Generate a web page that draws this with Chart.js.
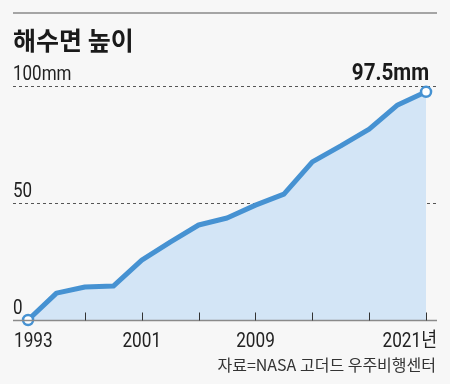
<!DOCTYPE html>
<html lang="ko">
<head>
    <meta charset="UTF-8">
    <title>해수면 높이</title>
    <script src="https://cdn.jsdelivr.net/npm/chart.js"></script>
    <style>
        html, body { margin: 0; padding: 0; background: #f7f7f7; }
        #wrap { width: 450px; height: 384px; position: relative; }
    </style>
</head>
<body>
    <div id="wrap"><canvas id="sea-chart" width="450" height="384"></canvas></div>

    <script>
        // data
        var years = [1993, 1995, 1997, 1999, 2001, 2003, 2005, 2007, 2009, 2011, 2013, 2015, 2017, 2019, 2021];
        var seaLevel = [0, 11.5, 14.1, 14.5, 25.6, 33.3, 40.6, 43.6, 49.1, 53.8, 67.6, 74.4, 81.6, 91.9, 97.5];
        var yTicks = [0, 50, 100];
        var yTickLabels = ['0', '50', '100mm'];
        var tickYears = [1993, 1997, 2001, 2005, 2009, 2013, 2017, 2021];
        var labelYears = [1993, 2001, 2009, 2021];
        var labelTexts = ['1993', '2001', '2009', '2021년'];

        var title = '해수면 높이';
        var source = '자료=NASA 고더드 우주비행센터';
        var lastLabel = '97.5mm';

        var numFont = '"Roboto", "Noto Sans CJK KR", sans-serif';
        var kr = '"Noto Sans CJK KR", sans-serif';

        // condensed-looking text: squeeze horizontally around the anchor
        function narrowText(c, text, x, y, align, sx) {
            c.save();
            c.translate(x, y);
            c.scale(sx, 1);
            c.textAlign = align;
            c.fillText(text, 0, 0);
            c.restore();
        }

        var decor = {
            id: 'decor',
            beforeDatasetsDraw: function(chart) {
                var c = chart.ctx, y = chart.scales.y;
                var left = 13, right = 437;
                c.save();
                // top rule
                c.strokeStyle = '#8a8a8a';
                c.lineWidth = 1.5;
                c.beginPath(); c.moveTo(left, 13); c.lineTo(right, 13); c.stroke();
                // title
                c.fillStyle = '#1a1a1a';
                c.font = 'bold 25px ' + kr;
                c.textBaseline = 'alphabetic';
                c.textAlign = 'left';
                c.fillText(title, 13, 50);
                // dashed gridlines
                c.lineWidth = 1;
                c.strokeStyle = '#555';
                c.setLineDash([3, 3]);
                yTicks.forEach(function(v) {
                    var py = Math.round(y.getPixelForValue(v)) + 0.5;
                    if (v !== 0) {
                        c.beginPath(); c.moveTo(left, py); c.lineTo(right, py); c.stroke();
                    }
                });
                c.setLineDash([]);
                // y labels
                c.font = '20px ' + numFont;
                c.fillStyle = '#222';
                yTicks.forEach(function(v, i) {
                    var py = y.getPixelForValue(v);
                    narrowText(c, yTickLabels[i], 13, py - 6, 'left', 0.85);
                });
                c.restore();
            },
            afterDatasetsDraw: function(chart) {
                var c = chart.ctx, x = chart.scales.x, y = chart.scales.y;
                var left = 13, right = 437;
                var base = Math.round(y.getPixelForValue(0)) + 0.5;
                c.save();
                // x axis line
                c.strokeStyle = '#8a8a8a';
                c.lineWidth = 1.5;
                c.beginPath(); c.moveTo(left, base); c.lineTo(right, base); c.stroke();
                // tick marks (upward)
                c.strokeStyle = '#333';
                c.lineWidth = 1;
                tickYears.forEach(function(yr, i) {
                    if (i === 0) return;
                    var px = Math.round(x.getPixelForValue(yr)) + 0.5;
                    c.beginPath(); c.moveTo(px, base); c.lineTo(px, base - 8); c.stroke();
                });
                // x labels
                c.fillStyle = '#222';
                c.font = '20px ' + numFont;
                c.textBaseline = 'alphabetic';
                labelYears.forEach(function(yr, i) {
                    var px = x.getPixelForValue(yr), align = 'center';
                    if (i === 0) { align = 'left'; px = 14; }
                    else if (i === labelYears.length - 1) { align = 'right'; px = 437; }
                    narrowText(c, labelTexts[i], px, 347, align, 0.86);
                });
                // last value label
                var lx = x.getPixelForValue(years[years.length - 1]);
                var ly = y.getPixelForValue(seaLevel[seaLevel.length - 1]);
                c.font = 'bold 24px ' + numFont;
                c.fillStyle = '#1a1a1a';
                narrowText(c, lastLabel, lx + 3, ly - 12, 'right', 0.86);
                // source
                c.font = '16px ' + kr;
                c.fillStyle = '#333';
                c.textAlign = 'right';
                c.fillText(source, 436, 371);
                c.restore();
            }
        };

        var ctx = document.getElementById('sea-chart').getContext('2d');
        var seaChart = new Chart(ctx, {
            type: 'line',
            data: {
                labels: years,
                datasets: [{
                    data: years.map(function(yr, i) { return { x: yr, y: seaLevel[i] }; }),
                    borderColor: '#4692d2',
                    borderWidth: 5,
                    backgroundColor: '#d3e5f6',
                    fill: 'origin',
                    tension: 0,
                    borderJoinStyle: 'round',
                    clip: false,
                    pointRadius: years.map(function(yr, i) { return (i === 0 || i === years.length - 1) ? 5 : 0; }),
                    pointBackgroundColor: '#ffffff',
                    pointBorderColor: '#4692d2',
                    pointBorderWidth: 2.5
                }]
            },
            options: {
                responsive: false,
                animation: false,
                devicePixelRatio: 1,
                layout: { padding: { left: 13, right: 13, top: 86, bottom: 64 } },
                plugins: { legend: { display: false }, tooltip: { enabled: false } },
                scales: {
                    x: { type: 'linear', display: false, min: 1991.94, max: 2021.77 },
                    y: { display: false, min: 0, max: 100 }
                }
            },
            plugins: [decor]
        });
    </script>
</body>
</html>
